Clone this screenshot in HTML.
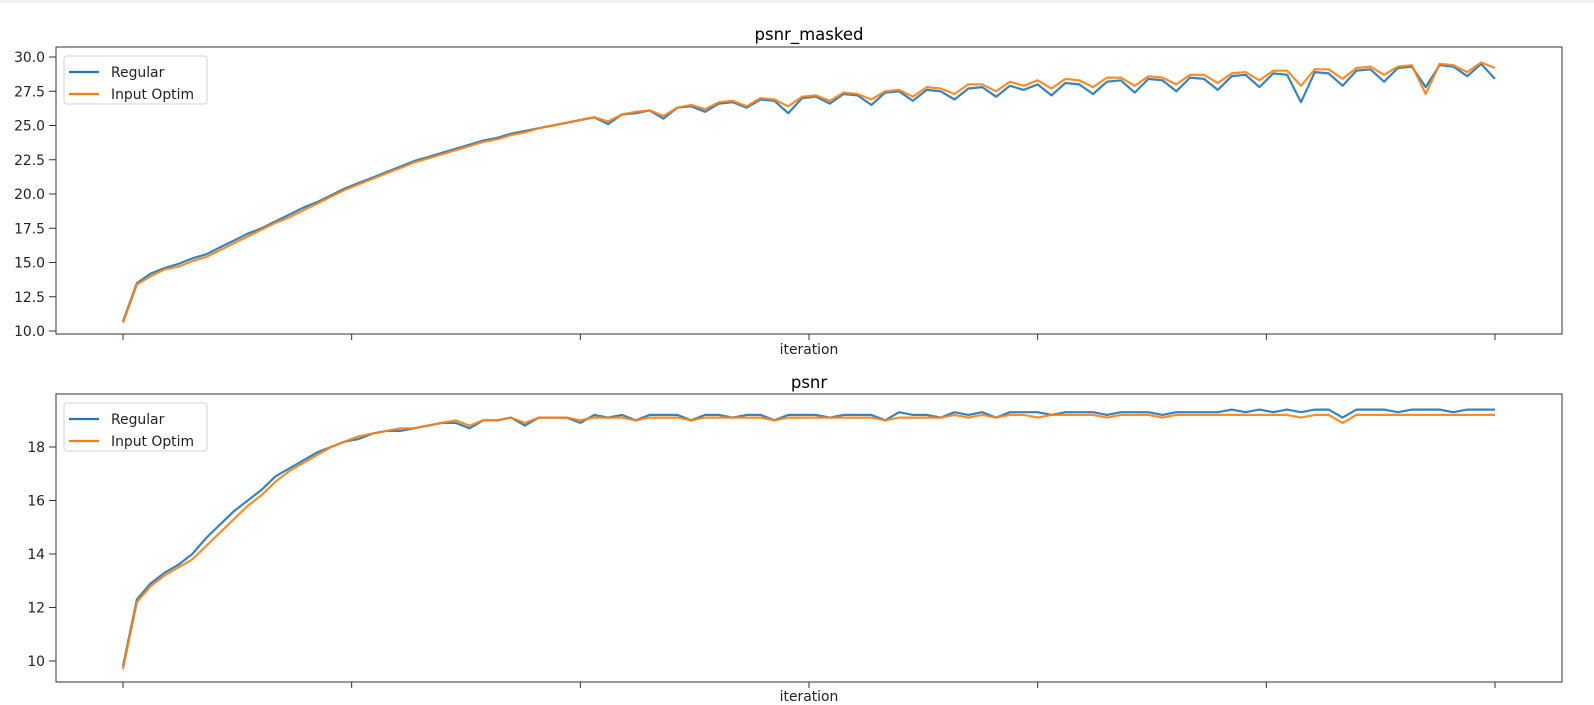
<!DOCTYPE html>
<html><head><meta charset="utf-8"><style>
body{margin:0;background:#fff;}
svg{display:block;font-family:"DejaVu Sans","Liberation Sans",sans-serif;}
</style></head><body>
<svg id="chart" width="1594" height="705">
<rect x="0" y="0" width="1594" height="705" fill="#fff"/>
<rect x="0" y="0" width="1594" height="3" fill="#f0f0f0"/>
</svg>
<script>
const categoriesCount = 100;
const xTickCount = 7;
const topTicks = ["10.0","12.5","15.0","17.5","20.0","22.5","25.0","27.5","30.0"];
const topTickValues = [10,12.5,15,17.5,20,22.5,25,27.5,30];
const botTicks = ["10","12","14","16","18"];
const botTickValues = [10,12,14,16,18];
const seriesNames = ["Regular","Input Optim"];
const topRegular = [10.7,13.5,14.2,14.6,14.9,15.3,15.6,16.1,16.6,17.1,
17.5,18.0,18.5,19.0,19.4,19.9,20.4,20.8,21.2,21.6,
22.0,22.4,22.7,23.0,23.3,23.6,23.9,24.1,24.4,24.6,
24.8,25.0,25.2,25.4,25.6,25.1,25.8,25.9,26.1,25.5,
26.3,26.4,26.0,26.6,26.7,26.3,26.9,26.8,25.9,27.0,
27.1,26.6,27.3,27.2,26.5,27.4,27.5,26.8,27.6,27.5,
26.9,27.7,27.8,27.1,27.9,27.6,28.0,27.2,28.1,28.0,
27.3,28.2,28.3,27.4,28.4,28.3,27.5,28.5,28.4,27.6,
28.6,28.7,27.8,28.8,28.7,26.7,28.9,28.8,27.9,29.0,
29.1,28.2,29.2,29.3,27.8,29.4,29.3,28.6,29.5,28.4];
const topOptim = [10.6,13.4,14.0,14.5,14.7,15.1,15.4,15.9,16.4,16.9,
17.4,17.9,18.3,18.8,19.3,19.8,20.3,20.7,21.1,21.5,
21.9,22.3,22.6,22.9,23.2,23.5,23.8,24.0,24.3,24.5,
24.8,25.0,25.2,25.4,25.6,25.3,25.8,26.0,26.1,25.7,
26.3,26.5,26.2,26.7,26.8,26.4,27.0,26.9,26.4,27.1,
27.2,26.8,27.4,27.3,26.9,27.5,27.6,27.1,27.8,27.7,
27.3,28.0,28.0,27.5,28.2,27.9,28.3,27.7,28.4,28.3,
27.8,28.5,28.5,27.9,28.6,28.5,28.0,28.7,28.7,28.1,
28.8,28.9,28.3,29.0,29.0,27.9,29.1,29.1,28.4,29.2,
29.3,28.7,29.3,29.4,27.3,29.5,29.4,28.9,29.6,29.2];
const botRegular = [9.8,12.3,12.9,13.3,13.6,14.0,14.6,15.1,15.6,16.0,
16.4,16.9,17.2,17.5,17.8,18.0,18.2,18.3,18.5,18.6,
18.6,18.7,18.8,18.9,18.9,18.7,19.0,19.0,19.1,18.8,
19.1,19.1,19.1,18.9,19.2,19.1,19.2,19.0,19.2,19.2,
19.2,19.0,19.2,19.2,19.1,19.2,19.2,19.0,19.2,19.2,
19.2,19.1,19.2,19.2,19.2,19.0,19.3,19.2,19.2,19.1,
19.3,19.2,19.3,19.1,19.3,19.3,19.3,19.2,19.3,19.3,
19.3,19.2,19.3,19.3,19.3,19.2,19.3,19.3,19.3,19.3,
19.4,19.3,19.4,19.3,19.4,19.3,19.4,19.4,19.1,19.4,
19.4,19.4,19.3,19.4,19.4,19.4,19.3,19.4,19.4,19.4];
const botOptim = [9.7,12.2,12.8,13.2,13.5,13.8,14.3,14.8,15.3,15.8,
16.2,16.7,17.1,17.4,17.7,18.0,18.2,18.4,18.5,18.6,
18.7,18.7,18.8,18.9,19.0,18.8,19.0,19.0,19.1,18.9,
19.1,19.1,19.1,19.0,19.1,19.1,19.1,19.0,19.1,19.1,
19.1,19.0,19.1,19.1,19.1,19.1,19.1,19.0,19.1,19.1,
19.1,19.1,19.1,19.1,19.1,19.0,19.1,19.1,19.1,19.1,
19.2,19.1,19.2,19.1,19.2,19.2,19.1,19.2,19.2,19.2,
19.2,19.1,19.2,19.2,19.2,19.1,19.2,19.2,19.2,19.2,
19.2,19.2,19.2,19.2,19.2,19.1,19.2,19.2,18.9,19.2,
19.2,19.2,19.2,19.2,19.2,19.2,19.2,19.2,19.2,19.2];

const NS='http://www.w3.org/2000/svg';
const svg=document.getElementById('chart');
function mk(tag,attrs,parent){const e=document.createElementNS(NS,tag);for(const k in attrs)e.setAttribute(k,attrs[k]);(parent||svg).appendChild(e);return e;}
const colors=['#1f77b4','#ff7f0e'];
function xScale(i,n){return 123+(1495-123)*i/(n-1);}
function panel(cfg){
  const g=mk('g',{});
  
  
  const yS=v=>cfg.y0px+(v-cfg.y0)*(cfg.y1px-cfg.y0px)/(cfg.y1-cfg.y0);
  const t=mk('text',{x:809,y:cfg.titleY,'text-anchor':'middle','font-size':'16.5',fill:'#000'},g);
  t.textContent=cfg.title;
  
  
  cfg.tickVals.forEach((v,k)=>{
    const y=yS(v);
    mk('line',{x1:49,x2:56,y1:y,y2:y,stroke:'#333','stroke-width':1},g);
    const tl=mk('text',{x:45,y:y+5,'text-anchor':'end','font-size':'13.9',fill:'#222'},g);
    tl.textContent=cfg.tickLabels[k];
    
    
  });
  for(let k=0;k<xTickCount;k++){
    const x=123+(1495-123)*k/(xTickCount-1);
    mk('line',{x1:x,x2:x,y1:cfg.bottom,y2:cfg.bottom+6,stroke:'#333','stroke-width':1},g);
  }
  const xl=mk('text',{x:809,y:cfg.xlabY,'text-anchor':'middle','font-size':'13.9',fill:'#222'},g);
  xl.textContent='iteration';
  
  
  cfg.series.forEach((s,si)=>{
    const d=s.map((v,i)=>(i?'L':'M')+xScale(i,s.length).toFixed(1)+','+yS(v).toFixed(1)).join('');
    const p=mk('path',{d:d,fill:'none',stroke:colors[si],'stroke-width':2.2,'stroke-linejoin':'round',opacity:0.9},g);
    
    
  });
  mk('rect',{x:56,y:cfg.top,width:1506,height:cfg.bottom-cfg.top,fill:'none',stroke:'#333','stroke-width':1},g);
  const lg=mk('g',{},g);
  
  
  mk('rect',{x:64,y:cfg.top+9,width:143,height:48,rx:3,fill:'#fff',stroke:'#ccc',opacity:0.9},lg);
  seriesNames.forEach((n,si)=>{
    const y=cfg.top+25+si*22;
    mk('line',{x1:69,x2:99,y1:y,y2:y,stroke:colors[si],'stroke-width':2.2},lg);
    const lt=mk('text',{x:111,y:y+5,'font-size':'13.9',fill:'#222'},lg);
    lt.textContent=n;
    
    
  });
}
panel({name:'psnr-masked-panel',title:'psnr_masked',titleY:40,top:47,bottom:334,y0:10,y1:30,y0px:331,y1px:57,tickVals:topTickValues,tickLabels:topTicks,xlabY:354,series:[topRegular,topOptim]});
panel({name:'psnr-panel',title:'psnr',titleY:388,top:394,bottom:682,y0:10,y1:18,y0px:661,y1px:447,tickVals:botTickValues,tickLabels:botTicks,xlabY:701,series:[botRegular,botOptim]});
</script>
</body></html>
